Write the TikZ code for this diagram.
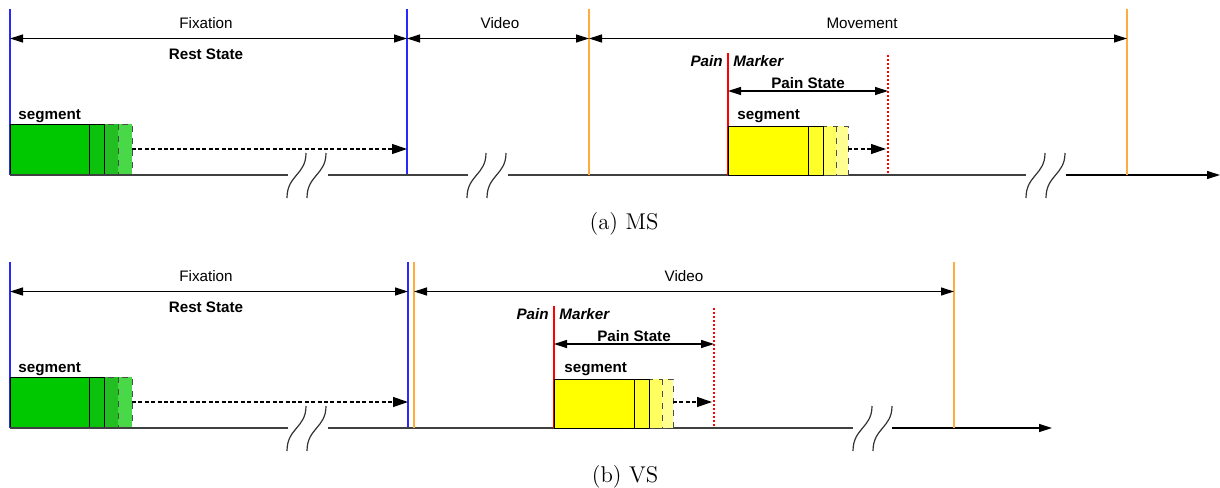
\documentclass[tikz,border=0pt]{standalone}
\usepackage{fontspec}
\setsansfont{Liberation Sans}
\usetikzlibrary{arrows.meta}

\definecolor{markblue}{RGB}{40,40,255}
\definecolor{markorange}{RGB}{255,172,60}
\definecolor{gseg1}{RGB}{0,200,0}
\definecolor{gseg2}{RGB}{12,194,12}
\definecolor{gseg3}{RGB}{34,190,34}
\definecolor{gseg4}{RGB}{72,216,72}
\definecolor{yseg1}{RGB}{255,255,0}
\definecolor{yseg2}{RGB}{255,255,40}
\definecolor{yseg3}{RGB}{255,255,95}
\definecolor{yseg4}{RGB}{255,255,145}

\begin{document}
\begin{tikzpicture}[
  x=0.5pt,
  y=-0.5pt,
  line join=round,
  txt/.style={font=\sffamily\fontsize{7.6}{9}\selectfont, inner sep=0pt},
  btxt/.style={font=\sffamily\bfseries\fontsize{7.6}{9}\selectfont, inner sep=0pt},
  itxt/.style={font=\sffamily\bfseries\itshape\fontsize{7.6}{9}\selectfont, inner sep=0pt},
  captxt/.style={font=\fontsize{11.4}{13}\selectfont, inner sep=0pt},
  span/.style={arrows={Triangle[length=6.5pt,width=4pt]-Triangle[length=6.5pt,width=4pt]}, line width=0.6pt},
  growth/.style={arrows={-Triangle[length=7.5pt,width=5pt]}, line width=0.6pt, dash pattern=on 2pt off 1.2pt},
  timeline/.style={line width=0.6pt, black!75},
  axisend/.style={arrows={-Triangle[length=6.5pt,width=4pt]}, line width=0.6pt},
  brk/.style={line width=0.6pt, black!80},
  slicebox/.style={line width=0.5pt}
]
\useasboundingbox (0,0) rectangle (1220,487);

% ---------- fixation part, same in both panels ----------
\foreach \p/\dy/\xf in {a/0/407, b/253/408}{
  \draw[markblue, line width=0.8pt] (10,9+\dy) -- (10,175+\dy);
  \draw[markblue, line width=0.8pt] (\xf,9+\dy) -- (\xf,175+\dy);
  \coordinate (f0\p) at (10,38.5+\dy);
  \coordinate (f1\p) at (\xf,38.5+\dy);
  \draw[span] (f0\p) -- (f1\p);
  \node[txt] (fix\p) at (206,23.5+\dy) {Fixation};
  \node[btxt] (rest\p) at (206,54+\dy) {Rest State};

  % segment + sliding windows
  \node[btxt, anchor=base west] (gsegl\p) at (18,119+\dy) {segment};
  \foreach \xa/\xb/\c/\dsh in {89/104/gseg2/solid, 104/118/gseg3/dashed, 118/132/gseg4/dashed}{
    \draw[slicebox, fill=\c, draw=black!70, \dsh] (\xa,124+\dy) rectangle (\xb,175+\dy);
  }
  \draw[slicebox, fill=gseg1] (10,124+\dy) rectangle (89,175+\dy);
  \draw[slicebox] (89,124+\dy) rectangle (104,175+\dy);
  \coordinate (g0\p) at (132,149+\dy);
  \coordinate (g1\p) at (\xf,149+\dy);
  \draw[growth] (g0\p) -- (g1\p);
}

% ---------- breaks in the time axis ----------
\foreach \bx/\by in {287/175, 467/175, 1026/175, 287/428, 853/428}{
  \draw[brk] (\bx,\by+23) .. controls (\bx,\by) and (\bx+19,\by) .. (\bx+19,\by-22);
  \draw[brk] (\bx+20,\by+23) .. controls (\bx+20,\by) and (\bx+39,\by) .. (\bx+39,\by-22);
}

% ---------- (a) MS ----------
\draw[timeline] (10,175) -- (288,175) (328,175) -- (468,175) (508,175) -- (1026,175);
\draw[axisend] (1066,175) -- (1220,175);

\draw[markorange, line width=0.8pt] (589,9) -- (589,175);
\draw[markorange, line width=0.8pt] (1127,9) -- (1127,175);
\coordinate (va0) at (407,38.5);
\coordinate (va1) at (589,38.5);
\coordinate (ma1) at (1127,38.5);
\draw[span] (va0) -- (va1);
\draw[span] (va1) -- (ma1);
\node[txt] (vida) at (500,23.5) {Video};
\node[txt] (mova) at (862,23) {Movement};

% pain marker and state
\draw[red, line width=0.8pt] (728,53) -- (728,175);
\draw[red, line width=0.8pt, dash pattern=on 1pt off 1pt] (888,55) -- (888,175);
\node[itxt, anchor=east] (paina) at (723,61) {Pain};
\node[itxt, anchor=west] (marka) at (733,61) {Marker};
\coordinate (pa0) at (728,91);
\coordinate (pa1) at (888,91);
\draw[span] (pa0) -- (pa1);
\node[btxt] (psa) at (808,83) {Pain State};

\node[btxt, anchor=base west] (ysegla) at (737,119) {segment};
\foreach \xa/\xb/\c/\dsh in {808/823/yseg2/solid, 823/836/yseg3/dashed, 836/848/yseg4/dashed}{
  \draw[slicebox, fill=\c, draw=black!70, \dsh] (\xa,126) rectangle (\xb,175);
}
\draw[slicebox, fill=yseg1] (728,126) rectangle (808,175);
\draw[slicebox] (808,126) rectangle (823,175);
\coordinate (ya0) at (848,149);
\coordinate (ya1) at (886,149);
\draw[growth] (ya0) -- (ya1);

\node[captxt, anchor=base] (capa) at (624,229) {(a) MS};

% ---------- (b) VS ----------
\draw[timeline] (10,428) -- (288,428) (328,428) -- (853,428);
\draw[axisend] (892,428) -- (1052,428);

\draw[markorange, line width=0.8pt] (414,262) -- (414,428);
\draw[markorange, line width=0.8pt] (954,262) -- (954,428);
\coordinate (vb0) at (414,291.5);
\coordinate (vb1) at (954,291.5);
\draw[span] (vb0) -- (vb1);
\node[txt] (vidb) at (684,276.5) {Video};

% pain marker and state
\draw[red, line width=0.8pt] (554,306) -- (554,428);
\draw[red, line width=0.8pt, dash pattern=on 1pt off 1pt] (714,308) -- (714,428);
\node[itxt, anchor=east] (painb) at (549,314) {Pain};
\node[itxt, anchor=west] (markb) at (559,314) {Marker};
\coordinate (pb0) at (554,344);
\coordinate (pb1) at (714,344);
\draw[span] (pb0) -- (pb1);
\node[btxt] (psb) at (634,336) {Pain State};

\node[btxt, anchor=base west] (ysegb) at (564,372) {segment};
\foreach \xa/\xb/\c/\dsh in {634/649/yseg2/solid, 649/662/yseg3/dashed, 662/673/yseg4/dashed}{
  \draw[slicebox, fill=\c, draw=black!70, \dsh] (\xa,379) rectangle (\xb,428);
}
\draw[slicebox, fill=yseg1] (554,379) rectangle (634,428);
\draw[slicebox] (634,379) rectangle (649,428);
\coordinate (yb0) at (673,402);
\coordinate (yb1) at (712,402);
\draw[growth] (yb0) -- (yb1);

\node[captxt, anchor=base] (capb) at (625,482) {(b) VS};

\end{tikzpicture}
\end{document}
